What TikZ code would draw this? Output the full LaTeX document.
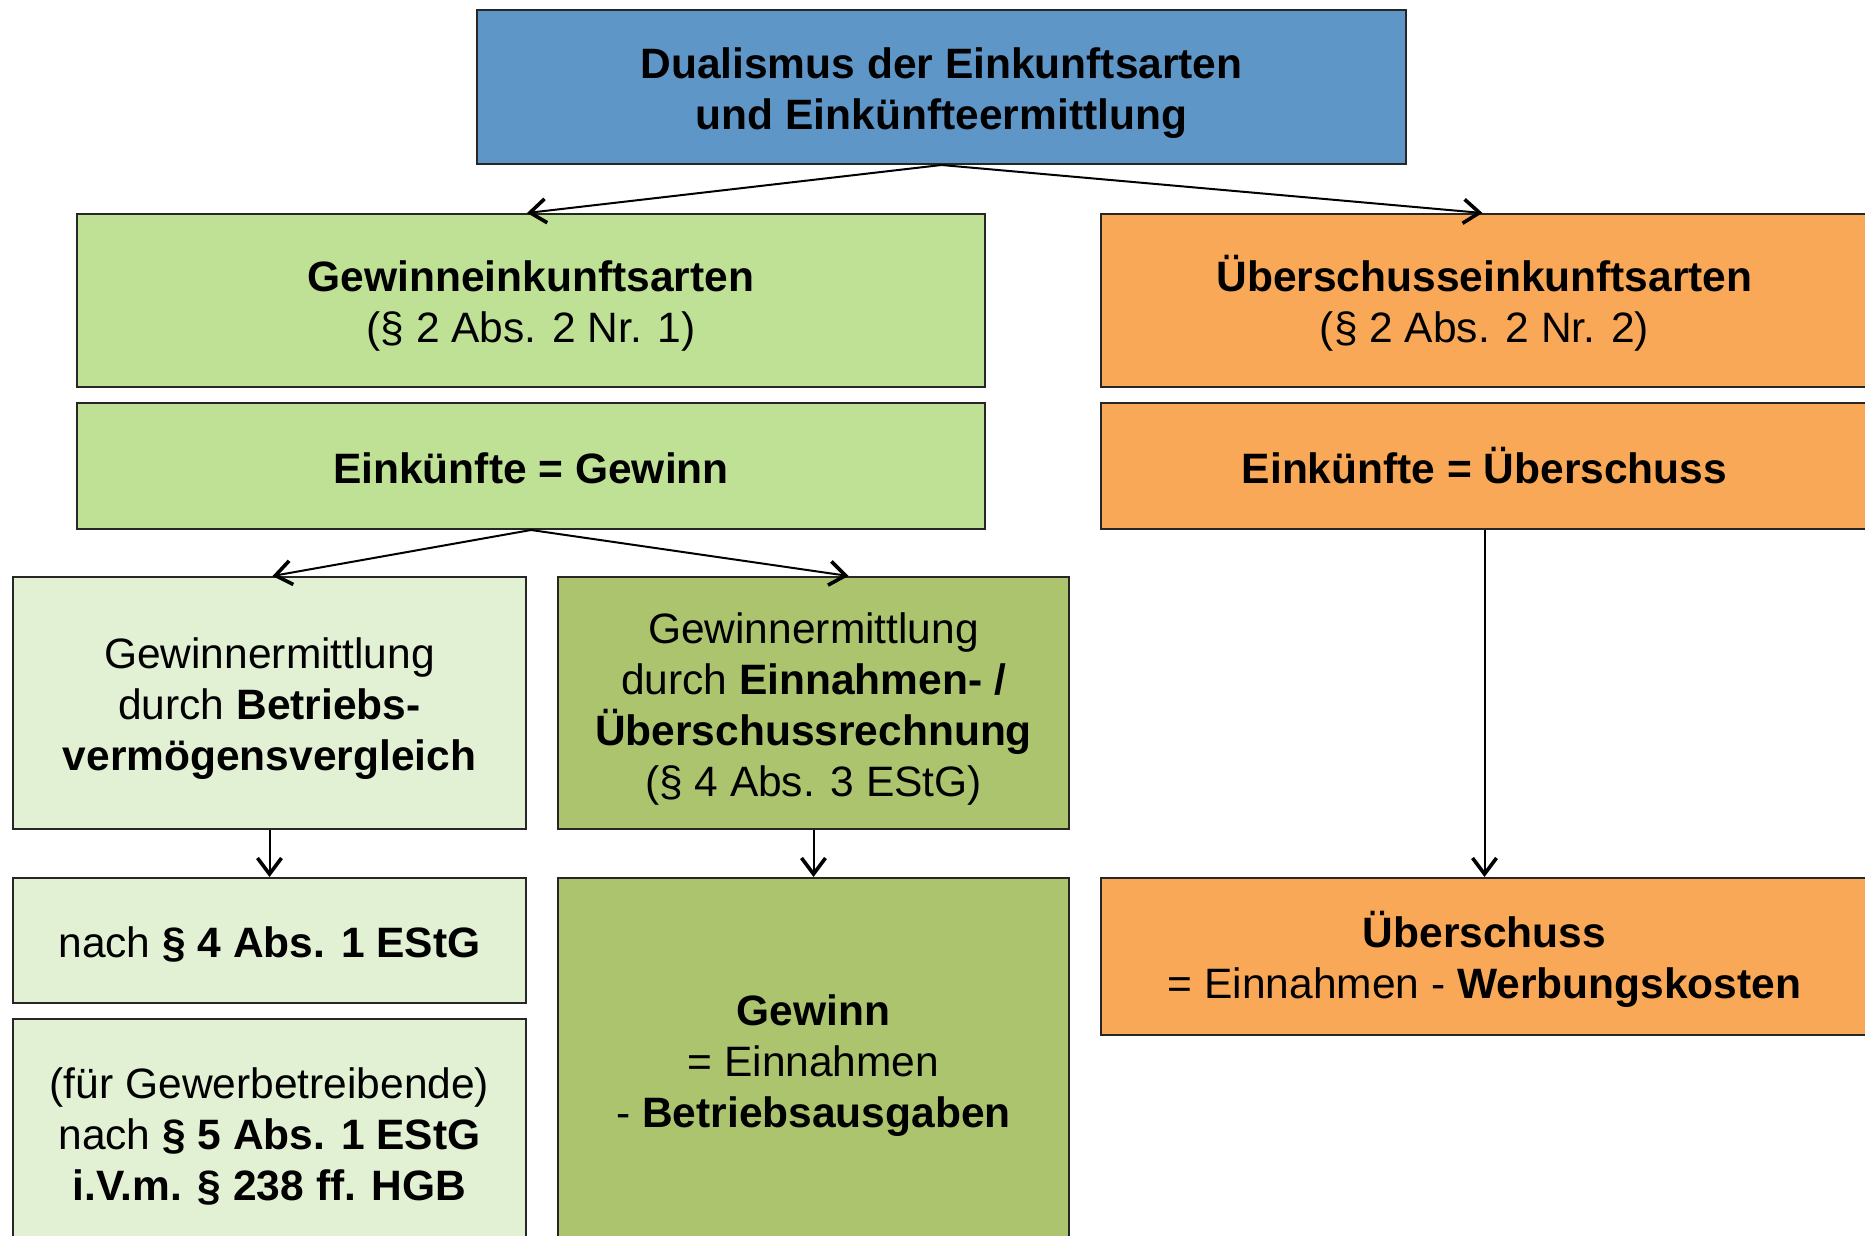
\documentclass[tikz,border=0pt]{standalone}
\usepackage{fontspec}
\setmainfont{Liberation Sans}
\usetikzlibrary{arrows.meta,calc}
\definecolor{cblue}{HTML}{5F96C8}
\definecolor{cgreen}{HTML}{BEE196}
\definecolor{corange}{HTML}{F9A857}
\definecolor{clight}{HTML}{E2F0D4}
\definecolor{colive}{HTML}{ACC46E}
\newcommand\lnstrut{\rule[-4.15pt]{0pt}{25.5pt}}
\newcommand\boxfont{\fontsize{21.25pt}{25.5pt}\selectfont\setlength{\lineskiplimit}{-20pt}}
\tikzset{
  box/.style 2 args={draw=black!85, line width=1pt, rectangle, inner sep=0pt,
    minimum width=#1*0.5pt, minimum height=#2*0.5pt, align=center,
    font=\boxfont},
  conn/.style={draw=black, line width=1pt, -{Straight Barb[length=8pt,width=12pt,line width=1.8pt]}}
}
\begin{document}
\begin{tikzpicture}[x=0.5pt,y=-0.5pt]
\useasboundingbox (0,0) rectangle (1865,1236);
\fill[white] (0,0) rectangle (1865,1236);
\node[box={929}{154}, fill=cblue] (top) at (941.5,87) {\lnstrut\textbf{Dualismus der Einkunftsarten}\\\lnstrut\textbf{und Einkünfteermittlung}};
\node[box={908}{173}, fill=cgreen] (gea) at (531,300.5) {\lnstrut\textbf{Gewinneinkunftsarten}\\\lnstrut(§ 2 Abs. 2 Nr. 1)};
\node[box={767}{173}, fill=corange] (uea) at (1484.5,300.5) {\lnstrut\textbf{Überschusseinkunftsarten}\\\lnstrut(§ 2 Abs. 2 Nr. 2)};
\node[box={908}{126}, fill=cgreen] (eg) at (531,466) {\lnstrut\textbf{Einkünfte = Gewinn}};
\node[box={767}{126}, fill=corange] (eu) at (1484.5,466) {\lnstrut\textbf{Einkünfte = Überschuss}};
\node[box={513}{252}, fill=clight] (bv) at (269.5,703) {\lnstrut Gewinnermittlung\\\lnstrut durch \textbf{Betriebs-}\\\lnstrut\textbf{vermögensvergleich}};
\node[box={511}{252}, fill=colive] (eur) at (813.5,703) {\lnstrut Gewinnermittlung\\\lnstrut durch \textbf{Einnahmen- /}\\\lnstrut\textbf{Überschussrechnung}\\\lnstrut(§ 4 Abs. 3 EStG)};
\node[box={513}{125}, fill=clight] (n4) at (269.5,940.5) {\lnstrut nach \textbf{§ 4 Abs. 1 EStG}};
\node[box={513}{226}, fill=clight] (n5) at (269.5,1132) {\lnstrut(für Gewerbetreibende)\\\lnstrut nach \textbf{§ 5 Abs. 1 EStG}\\\lnstrut\textbf{i.V.m. § 238 ff. HGB}};
\node[box={511}{364}, fill=colive] (gw) at (813.5,1060) {\lnstrut\textbf{Gewinn}\\\lnstrut= Einnahmen\\\lnstrut- \textbf{Betriebsausgaben}};
\node[box={767}{157}, fill=corange] (ue) at (1484.5,956.5) {\lnstrut\textbf{Überschuss}\\\lnstrut= Einnahmen - \textbf{Werbungskosten}};
\draw[conn] (top.south) -- ($(gea.north)+(-4,0)$);
\draw[conn] (top.south) -- ($(uea.north)+(-2,0)$);
\draw[conn] (eg.south) -- ($(bv.north)+(3,0)$);
\draw[conn] (eg.south) -- ($(eur.north)+(35,0)$);
\draw[conn] (bv.south) -- (n4.north);
\draw[conn] (eur.south) -- (gw.north);
\draw[conn] (eu.south) -- (ue.north);
\end{tikzpicture}
\end{document}
